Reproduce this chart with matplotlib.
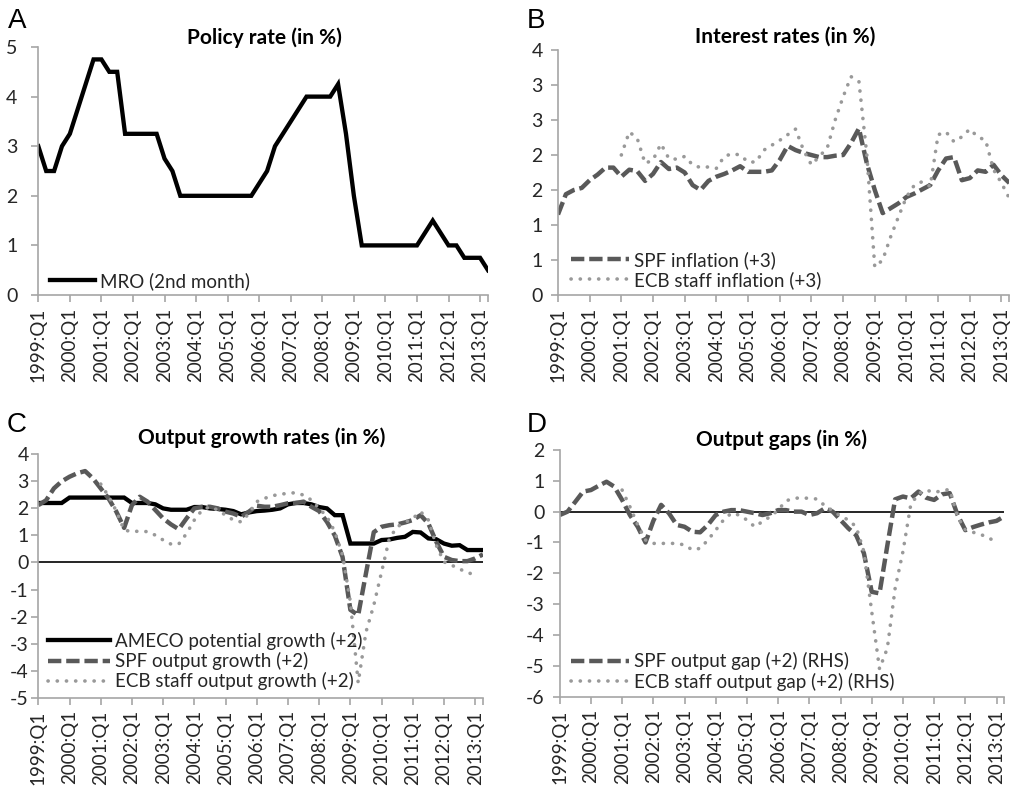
import numpy as np
import matplotlib
matplotlib.use("Agg")
import matplotlib.pyplot as plt
from matplotlib.ticker import FixedLocator

plt.rcParams['font.family'] = ['Lato', 'DejaVu Sans']
plt.rcParams['axes.unicode_minus'] = False

nan = np.nan
years = list(range(1999, 2014))
quarters = [f"{y}:Q{q}" for y in years for q in range(1, 5)][:58]
tick_labels = [f"{y}:Q1" for y in years]

# Panel A: policy rate
mro = [3.0, 2.5, 2.5, 3.0,
       3.25, 3.75, 4.25, 4.75,
       4.75, 4.5, 4.5, 3.25,
       3.25, 3.25, 3.25, 3.25,
       2.75, 2.5, 2.0, 2.0,
       2.0, 2.0, 2.0, 2.0,
       2.0, 2.0, 2.0, 2.0,
       2.25, 2.5, 3.0, 3.25,
       3.5, 3.75, 4.0, 4.0,
       4.0, 4.0, 4.25, 3.25,
       2.0, 1.0, 1.0, 1.0,
       1.0, 1.0, 1.0, 1.0,
       1.0, 1.25, 1.5, 1.25,
       1.0, 1.0, 0.75, 0.75,
       0.75, 0.5]

# Panel B: inflation
spf_inf = [1.15, 1.44, 1.5, 1.53,
           1.64, 1.72, 1.82, 1.82,
           1.69, 1.79, 1.77, 1.63,
           1.73, 1.9, 1.8, 1.82,
           1.75, 1.57, 1.5, 1.63,
           1.69, 1.73, 1.78, 1.84,
           1.76, 1.76, 1.76, 1.78,
           1.93, 2.13, 2.07, 2.03,
           2.0, 1.97, 1.97, 1.99,
           2.0, 2.17, 2.38, 1.88,
           1.5, 1.17, 1.24, 1.31,
           1.4, 1.45, 1.51, 1.57,
           1.78, 1.95, 1.97, 1.64,
           1.67, 1.78, 1.76, 1.86,
           1.71, 1.6]
ecb_inf = [nan] * 8 + [2.0, 2.33, 2.24, 1.88,
                       1.93, 2.16, 1.95, 1.94,
                       1.98, 1.86, 1.82, 1.83,
                       1.81, 1.98, 2.02, 2.0,
                       1.9, 1.9, 2.07, 2.14,
                       2.21, 2.29, 2.37, 2.07,
                       1.86, 1.98, 2.1, 2.5,
                       2.83, 3.12, 3.05, 2.0,
                       0.4, 0.5, 0.83, 1.12,
                       1.4, 1.57, 1.62, 1.55,
                       2.29, 2.33, 2.19, 2.26,
                       2.37, 2.26, 2.21, 1.79,
                       1.6, 1.38]

# Panel C: output growth
ameco = [2.2, 2.2, 2.2, 2.2,
         2.4, 2.4, 2.4, 2.4,
         2.4, 2.4, 2.4, 2.4,
         2.2, 2.2, 2.2, 2.15,
         2.0, 1.95, 1.95, 1.95,
         2.05, 2.05, 2.0, 1.98,
         1.95, 1.9, 1.78, 1.85,
         1.9, 1.92, 1.95, 2.0,
         2.15, 2.2, 2.2, 2.15,
         2.05, 2.0, 1.75, 1.75,
         0.7, 0.7, 0.7, 0.7,
         0.83, 0.85, 0.91, 0.95,
         1.13, 1.11, 0.89, 0.86,
         0.7, 0.62, 0.64, 0.46,
         0.46, 0.46]
spf_gr = [2.12, 2.3, 2.74, 3.0,
          3.17, 3.3, 3.38, 3.11,
          2.74, 2.37, 1.88, 1.28,
          2.12, 2.43, 2.25, 1.94,
          1.63, 1.41, 1.23, 1.63,
          2.0, 2.06, 2.06, 2.0,
          1.88, 1.81, 1.69, 1.88,
          2.1, 2.06, 2.06, 2.12,
          2.19, 2.2, 2.25, 2.06,
          1.9, 1.5, 1.0, 0.2,
          -1.75, -1.95, -0.4, 1.12,
          1.32, 1.38, 1.41, 1.48,
          1.57, 1.75, 1.44, 0.77,
          0.21, 0.09, 0.05, 0.05,
          0.15, 0.3]
ecb_gr = [nan] * 8 + [2.9, 2.45, 1.9, 1.2,
                      1.14, 1.16, 1.14, 1.01,
                      0.83, 0.68, 0.68, 1.07,
                      1.57, 1.94, 2.06, 1.94,
                      1.75, 1.57, 1.5, 1.81,
                      2.25, 2.37, 2.47, 2.52,
                      2.56, 2.58, 2.49, 2.31,
                      2.0, 1.69, 1.14, 0.27,
                      -1.46, -4.45, -2.57, -1.58,
                      -0.35, 0.89, 1.32, 1.48,
                      1.63, 1.88, 1.57, 0.64,
                      0.02, -0.1, -0.25, -0.35,
                      -0.5, nan]

# Panel D: output gaps
spf_gap = [-0.11, 0.0, 0.32, 0.65,
           0.7, 0.84, 0.97, 0.81,
           0.38, -0.11, -0.49, -1.0,
           -0.3, 0.22, -0.05, -0.43,
           -0.49, -0.65, -0.67, -0.43,
           -0.11, 0.0, 0.05, 0.05,
           0.0, -0.05, -0.11, -0.05,
           0.05, 0.05, 0.0, 0.0,
           -0.11, -0.05, 0.11, 0.0,
           -0.27, -0.54, -0.76, -1.35,
           -2.6, -2.65, -1.1, 0.4,
           0.49, 0.43, 0.65, 0.45,
           0.38, 0.56, 0.6, -0.1,
           -0.6, -0.5, -0.42, -0.35,
           -0.3, -0.15]
ecb_gap = [nan] * 8 + [0.7, 0.16, -0.43, -0.92,
                       -1.03, -1.03, -1.03, -1.03,
                       -1.08, -1.24, -1.19, -0.92,
                       -0.6, -0.27, -0.05, -0.11,
                       -0.27, -0.49, -0.32, -0.16,
                       0.05, 0.35, 0.43, 0.45,
                       0.43, 0.41, 0.19, 0.03,
                       -0.14, -0.27, -0.49, -1.3,
                       -3.24, -5.1, -4.43, -2.49,
                       -1.3, 0.22, 0.59, 0.7,
                       0.62, 0.68, 0.72, -0.16,
                       -0.59, -0.67, -0.74, -0.86,
                       -0.97, nan]

x = np.arange(len(quarters))

SPINE = '#a6a6a6'
TXT = '#262626'
DASH_C = '#595959'
DOT_C = '#999999'
SOLID = dict(color='black', lw=3.1, solid_joinstyle='miter')
DASHED = dict(color=DASH_C, lw=3.2, linestyle=(0, (3.0, 1.1)), dash_capstyle='butt')
DOTTED = dict(color=DOT_C, lw=2.6, linestyle=(0, (0.05, 2.5)), dash_capstyle='round')
FS = 13.5

fig = plt.figure(figsize=(10.16, 7.89), dpi=100)


def make_axes(rect, ylim, yticks, ylabels, ypad):
    ax = fig.add_axes(rect)
    ax.set_xlim(0, len(quarters) - 1)
    ax.set_ylim(*ylim)
    for s in ['top', 'right']:
        ax.spines[s].set_visible(False)
    for s in ['left', 'bottom']:
        ax.spines[s].set_color(SPINE)
        ax.spines[s].set_linewidth(1.2)
    ax.set_xticks(x[::4])
    ax.set_xticklabels(tick_labels, rotation=90)
    ax.xaxis.set_minor_locator(FixedLocator([len(quarters) - 1]))
    ax.tick_params(axis='x', which='both', direction='out', length=5, width=1.2,
                   color=SPINE, labelsize=FS, labelcolor=TXT, pad=4)
    ax.set_yticks(yticks)
    ax.set_yticklabels(ylabels)
    ax.tick_params(axis='y', direction='out', length=5, width=1.2,
                   color=SPINE, labelsize=FS + 0.5, labelcolor=TXT, pad=ypad)
    ax.set_facecolor('none')
    return ax


def legend(ax, anchor, hl):
    leg = ax.legend(loc='lower left', bbox_to_anchor=anchor, frameon=False,
                    fontsize=FS, handlelength=hl, handletextpad=0.25,
                    labelspacing=0.12, borderpad=0, borderaxespad=0)
    for t in leg.get_texts():
        t.set_color(TXT)
    return leg


# Panel A
axA = make_axes([0.0377, 0.6261, 0.4426, 0.3143], (0, 5), range(0, 6),
                [str(v) for v in range(0, 6)], 10)
axA.plot(x, mro, label='MRO (2nd month)', **SOLID)
legend(axA, (0.026, 0.02), 2.4)

# Panel B
b_ticks = [0, 0.5, 1, 1.5, 2, 2.5, 3, 3.5]
b_labels = ['0', '1', '1', '2', '2', '3', '3', '4']
axB = make_axes([0.5492, 0.6261, 0.4443, 0.3105], (0, 3.5), b_ticks, b_labels, 6)
axB.plot(x, spf_inf, label='SPF inflation (+3)', **DASHED)
axB.plot(x, ecb_inf, label='ECB staff inflation (+3)', **DOTTED)
legend(axB, (0.029, 0.025), 3.1)

# Panel C
axC = make_axes([0.0377, 0.1157, 0.4377, 0.3085], (-5, 4), range(-5, 5),
                [str(v) for v in range(-5, 5)], 2)
axC.axhline(0, color='black', lw=1.2)
axC.plot(x, ameco, label='AMECO potential growth (+2)', **SOLID)
axC.plot(x, spf_gr, label='SPF output growth (+2)', **DASHED)
axC.plot(x, ecb_gr, label='ECB staff output growth (+2)', **DOTTED)
legend(axC, (0.022, 0.03), 3.3)

# Panel D
axD = make_axes([0.5509, 0.117, 0.4376, 0.3127], (-6, 2), range(-6, 3),
                [str(v) for v in range(-6, 3)], 6)
axD.axhline(0, color='black', lw=1.2)
axD.plot(x, spf_gap, label='SPF output gap (+2) (RHS)', **DASHED)
axD.plot(x, ecb_gap, label='ECB staff output gap (+2) (RHS)', **DOTTED)
legend(axD, (0.026, 0.025), 3.1)

# Titles
titles = [("Policy rate (in %)", 264, 38), ("Interest rates (in %)", 785, 37),
          ("Output growth rates (in %)", 262, 438), ("Output gaps (in %)", 782, 440)]
for t, px, py in titles:
    fig.text(px / 1016, 1 - py / 789, t, ha='center', va='center',
             fontsize=15, fontweight='bold', color='black')

# Panel letters
letters = [("A", 8, 8), ("B", 527, 8), ("C", 7, 412), ("D", 527, 412)]
for t, px, py in letters:
    fig.text(px / 1016, 1 - py / 789, t, ha='left', va='top', fontsize=20,
             family=['Liberation Sans', 'DejaVu Sans'], color='black')

fig.savefig('out.png', dpi=100, facecolor='white')
